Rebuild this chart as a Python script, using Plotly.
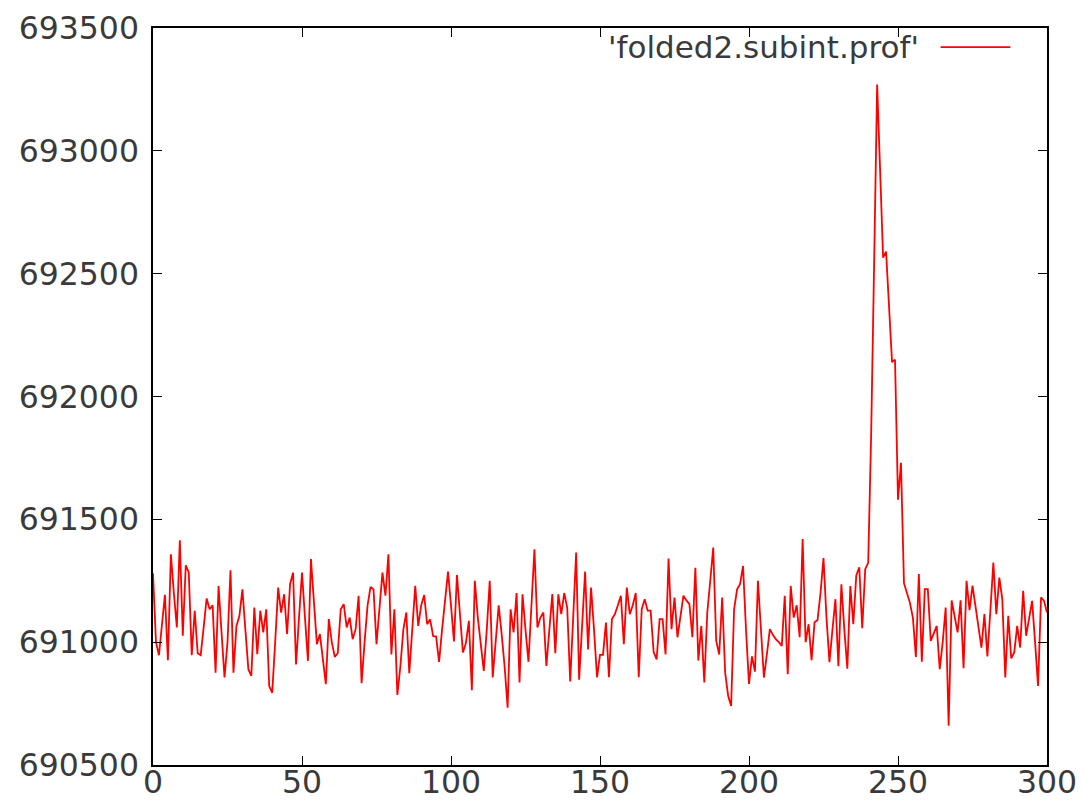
import plotly.graph_objects as go

# Profile values (x = bin index 0..300)
profile = [
    691280, 691000, 690947, 691080, 691193, 690927, 691358, 691200, 691060, 691415,
    691026, 691313, 691284, 690947, 691128, 690955, 690947, 691060, 691178, 691134,
    691150, 690876, 691229, 691040, 690856, 691000, 691293, 690876, 691066, 691107,
    691215, 691050, 690890, 690863, 691141, 690951, 691128, 691040, 691134, 690821,
    690794, 691000, 691222, 691120, 691195, 691033, 691236, 691283, 690909, 691100,
    691283, 691100, 690924, 691338, 691150, 690992, 691033, 690930, 690829, 691094,
    691000, 690940, 690955, 691134, 691155, 691060, 691100, 691012, 691053, 691189,
    690833, 691000, 691150, 691225, 691215, 690992, 691150, 691283, 691189, 691358,
    690950, 691134, 690785, 690900, 691050, 691121, 690874, 691050, 691229, 691066,
    691150, 691192, 691073, 691093, 691025, 691023, 690920, 691050, 691170, 691287,
    691150, 691003, 691273, 691110, 690958, 690996, 691087, 690804, 691250, 691100,
    690980, 690883, 691050, 691250, 690856, 691000, 691150, 691033, 690900, 690733,
    691134, 691040, 691200, 690836, 691195, 691050, 690920, 691150, 691378, 691060,
    691100, 691121, 690903, 691050, 691196, 690955, 691195, 691114, 691200, 691140,
    690840, 691100, 691365, 690847, 691050, 691287, 690970, 691222, 691050, 690857,
    690948, 690948, 691080, 690857, 691094, 691114, 691150, 691189, 690992, 691222,
    691114, 691150, 691200, 690857, 691134, 691175, 691128, 691128, 690960, 690930,
    691094, 691094, 690950, 691340, 691053, 691182, 691020, 691100, 691189, 691170,
    691155, 691020, 691303, 690925, 691066, 690836, 691121, 691250, 691385, 691005,
    690950, 691182, 690876, 690782, 690740, 691134, 691215, 691236, 691310, 691050,
    690830, 690942, 690880, 691250, 691050, 690856, 690950, 691053, 691030, 691012,
    691000, 690985, 691189, 690870, 691229, 691100, 691150, 691020, 691420, 691000,
    691073, 690927, 691081, 691090, 691200, 691342, 691100, 690919, 691050, 691175,
    690902, 691236, 691050, 690892, 691228, 691073, 691272, 691305, 691057, 691297,
    691323, 691850, 692550, 693270, 692920, 692565, 692590, 692350, 692140, 692150,
    691580, 691730, 691240, 691200, 691160, 691100, 690940, 691277, 690920, 691216,
    691216, 691005, 691040, 691066, 690890, 691000, 691141, 690660, 691170, 691100,
    691040, 691170, 690894, 691250, 691130, 691230, 691150, 691060, 690978, 691114,
    690942, 691130, 691324, 691114, 691263, 691175, 690856, 691107, 690934, 690958,
    691066, 690978, 691209, 691026, 691100, 691168, 691000, 690822, 691182, 691168,
    691121,
]
bins = list(range(len(profile)))

x_ticks = [0, 50, 100, 150, 200, 250, 300]
y_ticks = [690500, 691000, 691500, 692000, 692500, 693000, 693500]
series_name = "'folded2.subint.prof'"

FONT = "DejaVu Sans"
TEXT_COLOR = "#3a3a3a"
fig = go.Figure()
fig.add_trace(go.Scatter(
    x=bins, y=profile, mode="lines",
    line=dict(color="#ff0000", width=1.8),
    name=series_name, showlegend=False,
))

axis_common = dict(
    showgrid=False, zeroline=False, showline=True, linecolor="black", linewidth=1.5,
    mirror="ticks", ticks="inside", ticklen=9, tickwidth=1.2, tickcolor="black",
    tickfont=dict(family=FONT, size=31.5, color=TEXT_COLOR), automargin=False,
)
fig.update_xaxes(range=[0, 300], tickvals=x_ticks, ticktext=[str(v) for v in x_ticks],
                 ticklabelstandoff=-12, **axis_common)
fig.update_yaxes(range=[690500, 693500], tickvals=y_ticks, ticktext=[str(v) for v in y_ticks],
                 ticklabelstandoff=6, **axis_common)

# gnuplot-style key: text then line sample on the right
fig.add_annotation(x=0.859, y=0.974, xref="paper", yref="paper", text=series_name,
                   showarrow=False, xanchor="right", yanchor="middle",
                   font=dict(family=FONT, size=31, color=TEXT_COLOR))
fig.add_shape(type="line", xref="paper", yref="paper", x0=0.881, x1=0.959, y0=0.974, y1=0.974,
              line=dict(color="#ff0000", width=1.8))

fig.update_layout(
    width=1083, height=808, autosize=False,
    margin=dict(l=153, r=36, t=28, b=43),
    paper_bgcolor="white", plot_bgcolor="white",
)
fig.write_html("out.html")
